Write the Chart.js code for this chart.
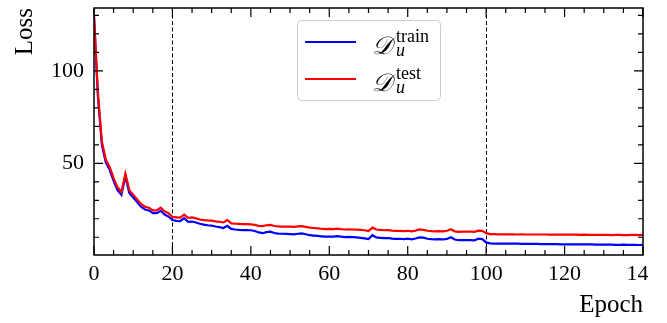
<!DOCTYPE html>
<html>
<head>
<meta charset="utf-8">
<script src="https://cdn.jsdelivr.net/npm/chart.js@4/dist/chart.umd.min.js"></script>
<style>
  html, body { margin: 0; padding: 0; background: #fff; }
  #wrap { width: 648px; height: 323px; }
</style>
</head>
<body>
<div id="wrap"><canvas id="loss-chart"></canvas></div>
<script>
// epochs on the x axis
const epochs = Array.from({ length: 141 }, (_, i) => i);

// loss on the training split
const trainLoss = [
  129, 86, 60, 50.5, 46.5, 40.5, 35.5, 33, 43, 34,
  31.5, 29, 26.5, 25, 24.5, 23, 23, 24.3, 22.3, 21.2,
  19.3, 18.9, 18.7, 20.3, 18.3, 18.5, 18, 17.3, 16.8, 16.5,
  16.3, 15.8, 15.5, 15, 16.2, 14.5, 14.2, 14, 13.9, 13.9,
  13.8, 13.4, 12.6, 12.2, 12.8, 13, 12.3, 12, 11.9, 11.8,
  11.7, 11.6, 11.9, 12.1, 11.6, 11.1, 10.9, 10.7, 10.5, 10.3,
  10.4, 10.3, 10.6, 10.3, 10.1, 10.2, 10.1, 9.9, 9.7, 9.4,
  9, 11.1, 9.9, 9.7, 9.5, 9.6, 9.3, 9.1, 9.2, 9,
  9.2, 8.9, 9.3, 9.9, 9.8, 9.2, 9, 8.9, 9, 8.8,
  9.1, 10, 8.8, 8.4, 8.4, 8.5, 8.4, 8.3, 9.2, 9,
  7.2, 6.7, 6.6, 6.6, 6.6, 6.5, 6.5, 6.5, 6.5, 6.4,
  6.4, 6.4, 6.4, 6.4, 6.3, 6.3, 6.3, 6.3, 6.3, 6.2,
  6.2, 6.2, 6.2, 6.2, 6.1, 6.1, 6.1, 6.1, 6.0, 6.0,
  6.0, 6.0, 6.0, 5.9, 5.9, 6.0, 5.9, 5.9, 5.9, 5.8,
  5.9
];

// loss on the test split
const testLoss = [
  130, 88, 62, 52, 48, 42, 37, 34.5, 44.5, 35.5,
  33, 30.5, 28, 26.5, 26, 24.5, 24.5, 26, 24, 23,
  21, 20.8, 20.6, 22.2, 20.5, 20.7, 20.2, 19.6, 19.3, 19.1,
  19, 18.6, 18.4, 18, 19.3, 17.5, 17.3, 17.2, 17.1, 17.1,
  17, 16.7, 16.2, 16, 16.5, 16.7, 16.1, 15.9, 15.8, 15.8,
  15.7, 15.6, 15.9, 16, 15.6, 15.2, 15, 14.8, 14.6, 14.4,
  14.5, 14.4, 14.7, 14.4, 14.2, 14.3, 14.2, 14.1, 14, 13.8,
  13.4, 15.2, 14.2, 14, 13.8, 13.9, 13.6, 13.4, 13.5, 13.3,
  13.5, 13.2, 13.6, 14.2, 14, 13.5, 13.3, 13.2, 13.3, 13.2,
  13.5, 14.3, 13.2, 12.9, 13, 13.1, 13, 12.9, 13.6, 13.5,
  12.2, 11.7, 11.7, 11.6, 11.6, 11.6, 11.6, 11.6, 11.5, 11.6,
  11.5, 11.5, 11.5, 11.5, 11.5, 11.5, 11.4, 11.5, 11.4, 11.4,
  11.4, 11.4, 11.4, 11.4, 11.3, 11.4, 11.3, 11.3, 11.3, 11.3,
  11.3, 11.3, 11.2, 11.3, 11.3, 11.2, 11.2, 11.3, 11.3, 11.2,
  11.3
];

// tick values and stage boundaries
const xTicks = [0, 20, 40, 60, 80, 100, 120, 140];
const yTicks = [50, 100];
const stageMarks = [20, 100];

// legend entries: script D, subscript u, superscript split name
const legendParts = [
  { sub: "u", sup: "train" },
  { sub: "u", sup: "test" }
];

const SERIF = "'Liberation Serif', 'Times New Roman', serif";

// matplotlib-like frame with inward ticks on all four sides
const framePlugin = {
  id: "frame",
  beforeDatasetsDraw(chart) {
    const { ctx, chartArea: { top, bottom }, scales: { x } } = chart;
    ctx.save();
    ctx.strokeStyle = "#000";
    ctx.lineWidth = 1;
    ctx.setLineDash([4, 2.5]);
    stageMarks.forEach(v => {
      const px = Math.round(x.getPixelForValue(v)) + 0.5;
      ctx.beginPath();
      ctx.moveTo(px, top);
      ctx.lineTo(px, bottom);
      ctx.stroke();
    });
    ctx.restore();
  },
  afterDraw(chart) {
    const { ctx, chartArea: { left, right, top, bottom }, scales: { x, y } } = chart;
    ctx.save();
    ctx.strokeStyle = "#000";
    ctx.lineWidth = 1.2;
    ctx.beginPath();
    for (let v = 0; v <= 140; v += 5) {
      const px = x.getPixelForValue(v);
      const len = v % 20 === 0 ? 9 : 5;
      ctx.moveTo(px, bottom); ctx.lineTo(px, bottom - len);
      ctx.moveTo(px, top); ctx.lineTo(px, top + len);
    }
    for (let v = 10; v <= 130; v += 10) {
      const py = y.getPixelForValue(v);
      const len = v % 50 === 0 ? 9 : 5;
      ctx.moveTo(left, py); ctx.lineTo(left + len, py);
      ctx.moveTo(right, py); ctx.lineTo(right - len, py);
    }
    ctx.stroke();
    ctx.lineWidth = 1.5;
    ctx.strokeRect(left, top, right - left, bottom - top);
    ctx.restore();
  }
};

// legend box with math-style labels
const mathLegend = {
  id: "mathLegend",
  afterDraw(chart) {
    const ctx = chart.ctx;
    const bx = 297, by = 20, bw = 143, bh = 80;
    ctx.save();
    ctx.fillStyle = "rgba(255,255,255,0.85)";
    ctx.strokeStyle = "#cccccc";
    ctx.lineWidth = 1;
    ctx.beginPath();
    ctx.roundRect(bx + 0.5, by + 0.5, bw, bh, 4);
    ctx.fill();
    ctx.stroke();

    chart.data.datasets.forEach((ds, i) => {
      const rowY = 42 + i * 37;
      ctx.strokeStyle = ds.borderColor;
      ctx.lineWidth = 2;
      ctx.beginPath();
      ctx.moveTo(305, rowY);
      ctx.lineTo(356, rowY);
      ctx.stroke();

      ctx.fillStyle = "#000";
      ctx.textBaseline = "alphabetic";
      ctx.textAlign = "left";
      ctx.font = "italic 25px " + SERIF;
      ctx.fillText("\u{1D49F}", 372, rowY + 12);
      ctx.font = "italic 18px " + SERIF;
      ctx.fillText(legendParts[i].sub, 396, rowY + 14);
      ctx.font = "18px " + SERIF;
      ctx.fillText(legendParts[i].sup, 396, rowY);
    });
    ctx.restore();
  }
};

new Chart(document.getElementById("loss-chart"), {
  type: "line",
  data: {
    labels: epochs,
    datasets: [
      {
        label: "train",
        data: trainLoss,
        borderColor: "#0000ff",
        borderWidth: 2.2,
        pointRadius: 0,
        tension: 0,
        order: 1
      },
      {
        label: "test",
        data: testLoss,
        borderColor: "#ff0000",
        borderWidth: 2.2,
        pointRadius: 0,
        tension: 0,
        order: 0
      }
    ]
  },
  options: {
    responsive: true,
    maintainAspectRatio: false,
    animation: false,
    layout: { padding: { top: 8, right: 5, left: 0, bottom: 0 } },
    plugins: {
      legend: { display: false },
      tooltip: { enabled: false }
    },
    scales: {
      x: {
        type: "linear",
        min: 0,
        max: 140,
        grid: { display: false, drawTicks: false },
        border: { display: false },
        afterBuildTicks: s => { s.ticks = xTicks.map(v => ({ value: v })); },
        afterFit: s => {
          s.height = 68;
          s.paddingLeft = 0;
          s.paddingRight = 0;
        },
        ticks: {
          color: "#000",
          padding: 6,
          maxRotation: 0,
          autoSkip: false,
          font: { family: SERIF, size: 22 }
        },
        title: {
          display: true,
          text: "Epoch",
          align: "end",
          color: "#000",
          padding: { top: 0, bottom: 3 },
          font: { family: SERIF, size: 25 }
        }
      },
      y: {
        min: 0.4,
        max: 134,
        grid: { display: false, drawTicks: false },
        border: { display: false },
        afterBuildTicks: s => { s.ticks = yTicks.map(v => ({ value: v })); },
        afterFit: s => {
          s.width = 94;
          s.paddingTop = 0;
          s.paddingBottom = 0;
        },
        ticks: {
          color: "#000",
          padding: 10,
          font: { family: SERIF, size: 22 }
        },
        title: {
          display: true,
          text: "Loss",
          align: "end",
          color: "#000",
          padding: { top: 10, bottom: 0 },
          font: { family: SERIF, size: 25 }
        }
      }
    }
  },
  plugins: [framePlugin, mathLegend]
});
</script>
</body>
</html>
